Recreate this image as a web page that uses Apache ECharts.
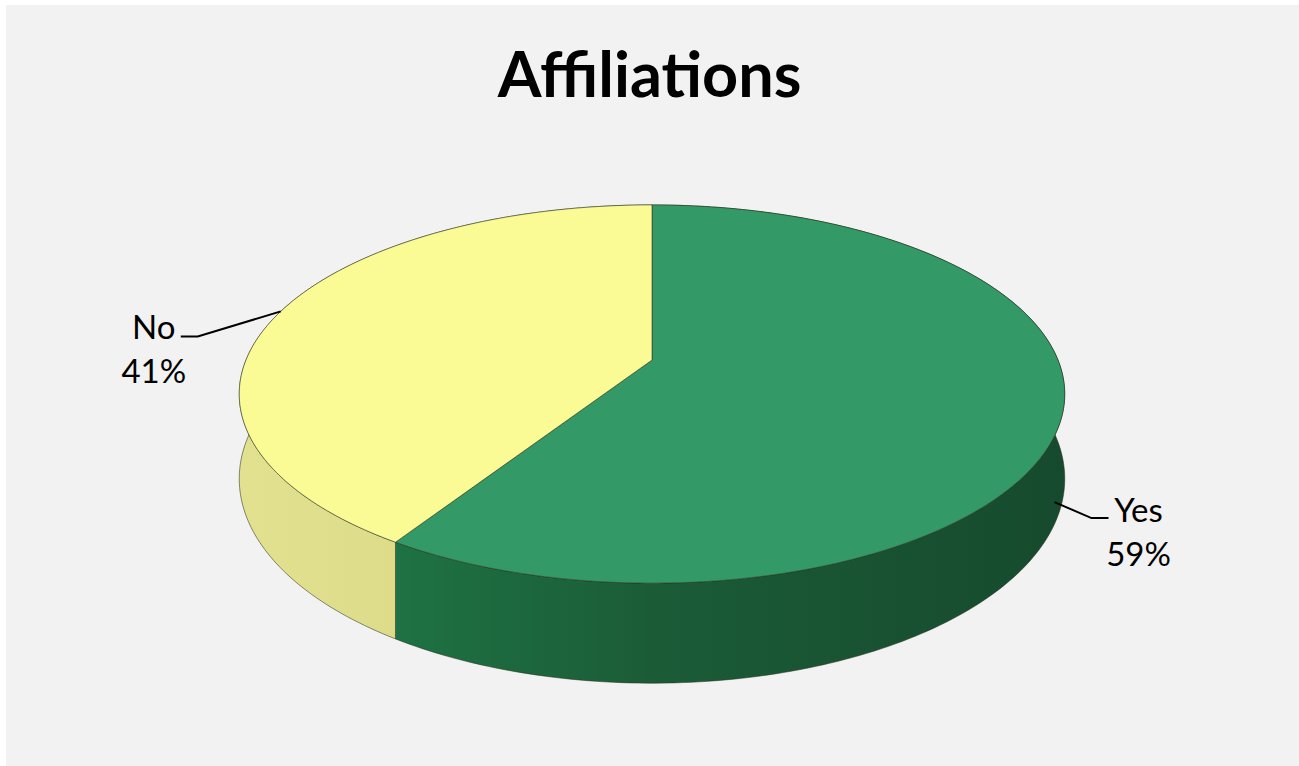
<!DOCTYPE html>
<html>
<head>
<meta charset="utf-8">
<script src="https://cdn.jsdelivr.net/npm/echarts@6/dist/echarts.min.js"></script>
<style>
html,body{margin:0;padding:0;background:#ffffff;}
#chart{width:1299px;height:766px;}
</style>
</head>
<body>
<div id="chart"></div>
<script>
// ---- data ----
const categories = ['Yes', 'No'];
const values = [59, 41];
const titleText = 'Affiliations';

// ---- styles ----
const topColors = ['#339966', '#fbfb96'];
const sideColors = [
  ['#207f4b', '#1b5c37', '#164a2e'],
  ['#e2e190', '#d6d47f', '#d2d07c']
];

// ---- geometry of the tilted pie ----
const CX = 652, CY = 360, A = 406, B = 183, P = 0.18, DEPTH = 82;

function proj(theta, down) {
  const r = theta * Math.PI / 180;
  const u = Math.sin(r), v = -Math.cos(r);
  const w = 1 - P * v;
  return [CX + A * u / w, CY + (B * v + (down ? DEPTH : 0)) / w];
}

const total = values.reduce((s, x) => s + x, 0);

const chart = echarts.init(document.getElementById('chart'), null, { renderer: 'svg' });

chart.setOption({
  backgroundColor: '#ffffff',
  animation: false,
  title: {
    text: titleText,
    left: 'center',
    top: 36,
    textStyle: { fontFamily: 'Lato', fontWeight: 'bold', fontSize: 63, color: '#000000' }
  },
  graphic: [{
    type: 'rect', z: -10, silent: true,
    shape: { x: 6, y: 5, width: 1293, height: 761 },
    style: { fill: '#f2f2f2' }
  }],
  series: [{
    type: 'custom',
    coordinateSystem: 'none',
    data: values.map((v, i) => ({ value: v, name: categories[i] })),
    renderItem: function (params, api) {
      const i = params.dataIndex;
      let before = 0;
      for (let k = 0; k < i; k++) before += values[k];
      const start = before / total * 360;
      const end = (before + values[i]) / total * 360;
      const mid = (start + end) / 2;

      const topArc = [], botArc = [];
      const n = Math.max(4, Math.ceil(end - start));
      for (let s = 0; s <= n; s++) {
        const t = start + (end - start) * s / n;
        topArc.push(proj(t, false));
        botArc.push(proj(t, true));
      }
      const topPts = [[CX, CY]].concat(topArc);
      const sidePts = topArc.concat(botArc.slice().reverse());

      const children = [];
      children.push({
        type: 'polygon', z2: 1,
        shape: { points: sidePts },
        style: {
          fill: {
            type: 'linear', global: true, x: 240, y: 0, x2: 1065, y2: 0,
            colorStops: [
              { offset: 0, color: sideColors[i][0] },
              { offset: 0.5, color: sideColors[i][1] },
              { offset: 1, color: sideColors[i][2] }
            ]
          },
          stroke: 'rgba(40,50,30,0.55)', lineWidth: 1
        }
      });
      children.push({
        type: 'polygon', z2: 10,
        shape: { points: topPts },
        style: { fill: topColors[i], stroke: 'rgba(40,50,30,0.55)', lineWidth: 1 }
      });

      // label with leader line
      const r = mid * Math.PI / 180;
      const u = Math.sin(r), v = -Math.cos(r);
      const side = u >= 0 ? 1 : -1;
      let anchor, elbow, endPt, tx, ty1, ty2;
      if (v > 0) {
        const b = proj(mid, true);
        anchor = [b[0] - side * 8, b[1] + 2];
        elbow = [anchor[0] + side * 37, anchor[1] + 16];
        endPt = [anchor[0] + side * 54, anchor[1] + 16];
        tx = anchor[0] + side * 84;
        ty1 = anchor[1] + 7;
        ty2 = anchor[1] + 51;
      } else {
        anchor = proj(mid, false);
        elbow = [anchor[0] + side * 83, anchor[1] + 25];
        endPt = [anchor[0] + side * 100, anchor[1] + 25];
        tx = anchor[0] + side * 127;
        ty1 = anchor[1] + 15;
        ty2 = anchor[1] + 59;
      }
      children.push({
        type: 'polyline', z2: 20,
        shape: { points: [anchor, elbow, endPt] },
        style: { stroke: '#000000', lineWidth: 2, fill: null }
      });
      const pct = Math.round(values[i] / total * 100) + '%';
      children.push({
        type: 'text', z2: 20,
        style: {
          text: categories[i], x: tx, y: ty1,
          align: 'center', verticalAlign: 'middle',
          fontFamily: 'Lato', fontSize: 33, fill: '#000000'
        }
      });
      children.push({
        type: 'text', z2: 20,
        style: {
          text: pct, x: tx, y: ty2,
          align: 'center', verticalAlign: 'middle',
          fontFamily: 'Lato', fontSize: 33, fill: '#000000'
        }
      });
      return { type: 'group', children: children };
    }
  }]
});
</script>
</body>
</html>
